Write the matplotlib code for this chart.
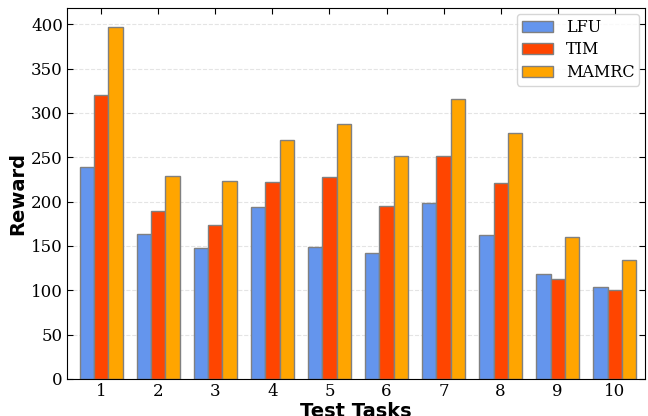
import numpy as np
import matplotlib.pyplot as plt

tasks = [1, 2, 3, 4, 5, 6, 7, 8, 9, 10]
lfu = [239, 163, 148, 194, 149, 142, 199, 162, 118, 104]
tim = [320, 189, 174, 222, 228, 195, 252, 221, 113, 100]
mamrc = [397, 229, 223, 269, 287, 252, 316, 277, 160, 134]

x = np.array(tasks)
w = 0.25

fig = plt.figure(figsize=(6.48, 4.16), dpi=100)
ax = fig.add_axes([0.1034, 0.089, 0.892, 0.891])
ax.set_axisbelow(True)
ax.yaxis.grid(True, linestyle='--', color='lightgray', alpha=0.6, linewidth=0.8)

ax.bar(x - w, lfu, w, color='cornflowerblue', edgecolor='gray', linewidth=1, label='LFU')
ax.bar(x, tim, w, color='orangered', edgecolor='gray', linewidth=1, label='TIM')
ax.bar(x + w, mamrc, w, color='orange', edgecolor='gray', linewidth=1, label='MAMRC')

ax.set_xlim(0.4, 10.53)
ax.set_ylim(0, 418)
ax.set_xticks(x)
ax.set_yticks(range(0, 401, 50))
ax.tick_params(direction='in', top=True, right=True, length=4, labelsize=12, pad=3)
for lab in ax.get_xticklabels() + ax.get_yticklabels():
    lab.set_family('DejaVu Serif')

ax.set_xlabel('Test Tasks', fontsize=14, fontweight='bold', labelpad=1)
ax.set_ylabel('Reward', fontsize=14, fontweight='bold', labelpad=3)
ax.legend(loc='upper right', prop={'family': 'DejaVu Serif', 'size': 11.5},
          borderaxespad=0.35, borderpad=0.3, labelspacing=0.35, handlelength=1.95)

plt.savefig('out.png')
